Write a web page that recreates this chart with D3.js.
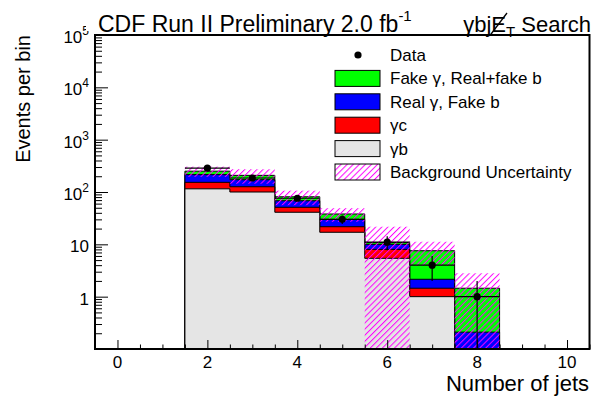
<!DOCTYPE html>
<html><head><meta charset="utf-8">
<script src="https://cdn.jsdelivr.net/npm/d3@7"></script>
<style>
html,body{margin:0;padding:0;background:#fff;}
svg{display:block;font-family:"Liberation Sans",Arial,Helvetica,sans-serif;}
</style></head><body>
<svg id="chart" width="595" height="402"></svg>
<script>
// Jet multiplicity bins
const nJets = [2, 3, 4, 5, 6, 7, 8];
// Background components per bin (events), stacked bottom to top
const gammaB         = [115, 100, 41, 17, 5.4, 1.0, 0];
const gammaC         = [38, 26, 10, 4.7, 2.6, 0.45, 0];
const realGammaFakeB = [62, 46, 17, 8.3, 2.0, 0.7, 0.21];
const fakeGamma      = [35, 36, 13, 8, 0.8, 5.4, 1.24];
// Total background uncertainty (absolute, symmetric)
const bkgUncertainty = [55, 64, 25, 11, 10.9, 3.65, 1.35];
// Observed events
const dataCounts     = [285, 185, 76, 30, 11, 4, 1];

const xTickValues = [0, 2, 4, 6, 8, 10];
const yTickValues = [1, 10, 100, 1000, 10000, 100000];

const legendLabels = ["Data", "Fake \u03b3, Real+fake b", "Real \u03b3, Fake b", "\u03b3c", "\u03b3b", "Background Uncertainty"];

const svg = d3.select("#chart");
const frame = {left: 95, right: 589.5, top: 35, bottom: 349};

const x = d3.scaleLinear().domain([-0.5, 10.5]).range([frame.left, frame.right]);
const y = d3.scaleLog().domain([0.1, 1e5]).range([frame.bottom, frame.top]);
const yc = v => (v <= 0.1 ? frame.bottom : Math.max(frame.top, y(v)));

svg.append("rect").attr("width", 595).attr("height", 402).attr("fill", "#fff");

const defs = svg.append("defs");
const hatch = defs.append("pattern")
  .attr("id", "hatch").attr("patternUnits", "userSpaceOnUse")
  .attr("width", 4.3).attr("height", 10)
  .attr("patternTransform", "rotate(45)");
hatch.append("line").attr("x1", 0.5).attr("y1", 0).attr("x2", 0.5).attr("y2", 10)
  .attr("stroke", "#ff00ff").attr("stroke-width", 1);

// Stacked background
const rows = nJets.map((n, i) => ({n, gb: gammaB[i], gc: gammaC[i], rb: realGammaFakeB[i], fg: fakeGamma[i]}));
const keys = ["gb", "gc", "rb", "fg"];
const colors = {gb: "#e5e5e5", gc: "#ff0000", rb: "#0000ff", fg: "#00ff00"};
const series = d3.stack().keys(keys)(rows);

const stepLine = d3.line();
function stepPoints(layer) {
  const pts = [[x(nJets[0] - 0.5), frame.bottom]];
  layer.forEach((d, i) => {
    pts.push([x(nJets[i] - 0.5), yc(d[1])]);
    pts.push([x(nJets[i] + 0.5), yc(d[1])]);
  });
  pts.push([x(nJets[nJets.length - 1] + 0.5), frame.bottom]);
  return pts;
}

const stackG = svg.append("g");
series.slice().reverse().forEach(layer => {
  stackG.append("path")
    .attr("d", stepLine(stepPoints(layer)) + "Z")
    .attr("fill", colors[layer.key])
    .attr("stroke", "#000")
    .attr("stroke-width", 1);
});

// Uncertainty band around the total background
const totals = series[series.length - 1].map(d => d[1]);
svg.append("g").selectAll("rect").data(nJets).join("rect")
  .attr("x", n => x(n - 0.5))
  .attr("width", n => x(n + 0.5) - x(n - 0.5))
  .attr("y", (n, i) => yc(totals[i] + bkgUncertainty[i]))
  .attr("height", (n, i) => yc(totals[i] - bkgUncertainty[i]) - yc(totals[i] + bkgUncertainty[i]))
  .attr("fill", "url(#hatch)");

// Data points with statistical errors
const dataG = svg.append("g").selectAll("g").data(nJets).join("g");
dataG.append("line")
  .attr("x1", n => x(n - 0.5)).attr("x2", n => x(n + 0.5))
  .attr("y1", (n, i) => yc(dataCounts[i])).attr("y2", (n, i) => yc(dataCounts[i]))
  .attr("stroke", "#000").attr("stroke-width", 1.2);
dataG.append("line")
  .attr("x1", n => x(n)).attr("x2", n => x(n))
  .attr("y1", (n, i) => yc(dataCounts[i] + Math.sqrt(dataCounts[i])))
  .attr("y2", (n, i) => yc(dataCounts[i] - Math.sqrt(dataCounts[i])))
  .attr("stroke", "#000").attr("stroke-width", 1.2);
dataG.append("circle")
  .attr("cx", n => x(n)).attr("cy", (n, i) => yc(dataCounts[i]))
  .attr("r", 3.6).attr("fill", "#000");

// Axes (ticks drawn inside the frame)
function tickAxis(axis, transform, len, values) {
  const g = svg.append("g").attr("transform", transform)
    .call(axis.tickValues(values).tickSize(-len).tickFormat(""));
  g.select(".domain").remove();
  g.selectAll(".tick line").attr("stroke", "#000").attr("stroke-width", 1);
  return g;
}
const xMinor = d3.range(0, 10.51, 0.5).filter(v => v % 2 !== 0);
tickAxis(d3.axisBottom(x), `translate(0,${frame.bottom})`, 9, xTickValues);
tickAxis(d3.axisBottom(x), `translate(0,${frame.bottom})`, 4.5, xMinor);

const yMinor = [];
for (let e = -1; e < 5; e++) for (let m = 2; m <= 9; m++) yMinor.push(m * Math.pow(10, e));
tickAxis(d3.axisLeft(y), `translate(${frame.left},0)`, 13, yTickValues);
tickAxis(d3.axisLeft(y), `translate(${frame.left},0)`, 7, yMinor);

svg.append("rect")
  .attr("x", frame.left).attr("y", frame.top)
  .attr("width", frame.right - frame.left).attr("height", frame.bottom - frame.top)
  .attr("fill", "none").attr("stroke", "#000").attr("stroke-width", 2);

// Tick labels
svg.append("g").selectAll("text").data(xTickValues).join("text")
  .attr("x", d => x(d)).attr("y", 368)
  .attr("text-anchor", "middle").style("font-size", "17px")
  .text(d => d);

const yLab = svg.append("g").selectAll("text").data(yTickValues).join("text")
  .attr("x", 89).attr("y", d => y(d) + 8)
  .attr("text-anchor", "end").style("font-size", "17px");
yLab.each(function(d) {
  const t = d3.select(this);
  const e = Math.round(Math.log10(d));
  if (e <= 1) { t.text(d); return; }
  t.append("tspan").text("10");
  t.append("tspan").attr("dy", -8).style("font-size", "12px").text(e);
});

// Axis titles
svg.append("text").attr("x", 589).attr("y", 391).attr("text-anchor", "end")
  .style("font-size", "22px").text("Number of jets");
svg.append("text").attr("transform", "translate(30,35) rotate(-90)")
  .attr("text-anchor", "end").style("font-size", "20px").text("Events per bin");

// Legend
const legendY = [55, 78.4, 101.8, 125.2, 148.6, 172];
const legend = svg.append("g");
const fills = [null, colors.fg, colors.rb, colors.gc, colors.gb, "url(#hatch)"];
legendLabels.forEach((lab, i) => {
  if (i === 0) {
    legend.append("circle").attr("cx", 358).attr("cy", legendY[i]).attr("r", 3.6).attr("fill", "#000");
  } else {
    legend.append("rect").attr("x", 335).attr("y", legendY[i] - 8).attr("width", 45).attr("height", 16)
      .attr("fill", fills[i]).attr("stroke", "#000").attr("stroke-width", 1);
  }
  legend.append("text").attr("x", 390).attr("y", legendY[i] + 6)
    .style("font-size", "17px").text(lab);
});

// Title block
svg.append("rect").attr("x", 86).attr("y", 0).attr("width", 509).attr("height", 31).attr("fill", "#fff");
const t1 = svg.append("text").attr("x", 98).attr("y", 32).style("font-size", "23px");
t1.append("tspan").text("CDF Run II Preliminary 2.0 fb");
t1.append("tspan").attr("dy", -11).style("font-size", "15px").text("-1");

const t2 = svg.append("text").attr("x", 591).attr("y", 32).attr("text-anchor", "end").style("font-size", "22px");
t2.append("tspan").text("\u03b3bj");
t2.append("tspan").text("E");
t2.append("tspan").attr("dy", 5).style("font-size", "15px").text("T");
t2.append("tspan").attr("dy", -5).text(" Search");
const eStart = t2.node().getStartPositionOfChar(3);
const eEnd = t2.node().getEndPositionOfChar(3);
svg.append("line")
  .attr("x1", eStart.x - 1).attr("y1", 35)
  .attr("x2", eEnd.x + 1).attr("y2", 13)
  .attr("stroke", "#000").attr("stroke-width", 1.3);
</script>
</body></html>
